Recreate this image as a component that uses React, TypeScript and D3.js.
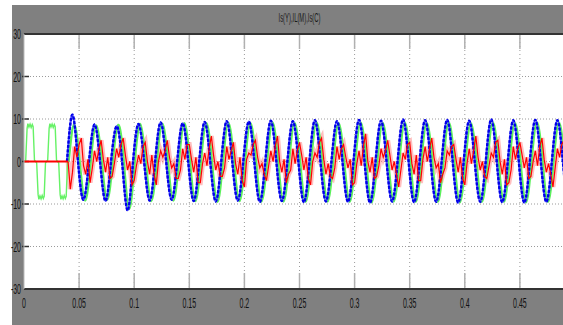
import React, { useRef, useEffect } from 'react';
import * as d3 from 'd3';

// sample step of the recorded cycles (s)
const CYCLE = 0.02;

// green trace before compensation starts (rectifier load current), [t, A]
const greenStart: [number, number][] = [
  [0, 0], [0.0015, 0], [0.0028, 7.8], [0.0035, 8.9], [0.0045, 8.1], [0.0055, 8.8], [0.0065, 8.0], [0.0075, 8.7], [0.0083, 8.2],
  [0.0095, 0.3], [0.0105, 0], [0.0115, -0.3], [0.0128, -7.8], [0.0135, -8.9], [0.0145, -8.1], [0.0155, -8.8], [0.0165, -8.0],
  [0.0175, -8.7], [0.0183, -8.2], [0.0195, -0.3], [0.0205, 0], [0.0215, 0.3], [0.0228, 7.8], [0.0235, 8.9], [0.0245, 8.1],
  [0.0255, 8.8], [0.0265, 8.0], [0.0275, 8.7], [0.0283, 8.2], [0.0295, 0.3], [0.0305, 0], [0.0315, -0.3], [0.0328, -7.8],
  [0.0335, -8.9], [0.0345, -8.1], [0.0355, -8.8], [0.0365, -8.0], [0.0375, -8.7], [0.0383, -8.2], [0.0395, -0.3], [0.0405, 0],
];

// per-cycle extrema after t = 0.04
const bluePeaks = [11, 8.7, 8.3, 8.8, 9.2, 9.0, 9.3, 9.5, 9.4, 9.6, 9.5, 9.7, 9.5, 9.8, 9.6, 9.9, 9.7, 9.8, 9.6, 9.9, 9.7, 9.8, 9.7];
const blueTroughs = [-9.0, -9.3, -11.5, -9.2, -9.0, -9.3, -9.4, -9.2, -9.5, -9.3, -9.6, -9.4, -9.5, -9.7, -9.4, -9.6, -9.5, -9.7, -9.5, -9.6, -9.7, -9.5, -9.6];
const greenPeaks = [8.7, 8.5, 8.6, 8.8, 8.9, 9.0, 9.0, 9.1, 9.0, 9.2, 9.1, 9.2, 9.0, 9.2, 9.1, 9.2, 9.1, 9.2, 9.0, 9.2, 9.1, 9.2, 9.1];
const greenTroughs = [-9.2, -9.0, -11.2, -9.3, -9.2, -9.3, -9.5, -9.3, -9.4, -9.4, -9.5, -9.4, -9.5, -9.6, -9.4, -9.5, -9.5, -9.6, -9.5, -9.5, -9.6, -9.5, -9.5];

// red trace, 10 samples per cycle (every 2 ms) from t = 0.04
const redCycles: number[][] = [
  [0, -6.5, -2.5, 3.5, 1, 4, 5.5, -1, -3, 0.5],
  [-5, -1.5, 2.5, 0, 3, 5, 0.5, -2.5, 1, -4],
  [-3.5, -0.5, 3, 1, 4, 5.5, 1.5, -2, 0, -5.5],
  [-4.5, -1, 1.5, -0.5, 3.5, 4.5, 0, -3, 1.5, -3],
  [-5.5, 0, 2.5, 1, 2.5, 5, 1, -1.5, -0.5, -4],
  [-4, -2, 3, 0.5, 4, 4, 0.5, -2.5, 1, -5],
  [-5, -0.5, 2, -1, 3, 6, 1.5, -2, 0, -3.5],
  [-3.5, -1.5, 3.5, 0.5, 2.5, 4.5, -0.5, -3, 1, -4.5],
  [-6, 0.5, 2, 1.5, 4, 5, 1, -1.5, -0.5, -3],
  [-4.5, -1, 2.5, 0, 3.5, 6, 0, -2.5, 0.5, -5],
  [-3, -2, 3, -0.5, 2.5, 4.5, 1.5, -2, 1, -4],
  [-5.5, 0, 2, 1, 4.5, 5.5, 0.5, -3, -0.5, -3.5],
  [-4, -1.5, 3.5, 0.5, 3, 4, 1, -1.5, 0.5, -5.5],
  [-5, -0.5, 2.5, -1, 3.5, 6.5, 0, -2.5, 1, -4],
  [-3.5, -1, 3, 1, 2.5, 5, 1.5, -2, 0, -3],
  [-6, -2, 2, 0.5, 4, 4.5, -0.5, -3, 1.5, -4.5],
  [-4.5, 0.5, 3.5, 0, 3, 5.5, 1, -1.5, -0.5, -5],
  [-3, -1.5, 2.5, 1.5, 3.5, 4, 0.5, -2.5, 1, -4],
  [-5.5, -0.5, 3, -0.5, 2.5, 6, 1, -2, 0, -3.5],
  [-4, -1, 2, 1, 4.5, 5, 0, -3, 0.5, -5.5],
  [-5, -2, 3.5, 0.5, 3, 4.5, 1.5, -1.5, 1, -4],
  [-3.5, 0, 2.5, -1, 3.5, 5.5, 0.5, -2.5, -0.5, -3],
  [-6, -1.5, 3, 1, 4, 5, 1, -2, 0.5, -4.5],
];

const title = 'Is(Y),IL(M),Is(C)';
const W = 563;
const H = 325;

const App: React.FC = () => {
  const svgRef = useRef<SVGSVGElement>(null);

  useEffect(() => {
    if (!svgRef.current) return;
    const svg = d3.select(svgRef.current);
    svg.selectAll('*').remove();

    const left = 24, right = 575, top = 34, bottom = 289;
    const x = d3.scaleLinear().domain([0, 0.5]).range([left, right]);
    const y = d3.scaleLinear().domain([-30, 30]).range([bottom, top]);

    // grey frame
    svg.append('rect').attr('x', 12).attr('y', 5).attr('width', W - 12).attr('height', H - 5).attr('fill', '#808080');
    svg.append('rect').attr('x', left).attr('y', top).attr('width', right - left).attr('height', bottom - top).attr('fill', '#fff');

    const font = '"Liberation Sans Narrow", "Liberation Sans", Arial, sans-serif';

    svg.append('text')
      .attr('transform', `translate(${(left + right) / 2}, 22) scale(0.45, 1)`)
      .attr('text-anchor', 'middle')
      .attr('font-family', font)
      .attr('font-size', 13)
      .attr('fill', '#1a1a1a')
      .text(title);

    const grid = svg.append('g');
    // only the ticks that fall inside the visible window
    const xt = x.ticks(10).filter(t => x(t) < W - 4);
    const yt = y.ticks(6);

    // dotted grid
    xt.filter(t => t > 0).forEach(t => {
      grid.append('line').attr('x1', x(t)).attr('x2', x(t)).attr('y1', top).attr('y2', bottom)
        .attr('stroke', '#9a9a9a').attr('stroke-width', 1).attr('stroke-dasharray', '1,3');
      grid.append('line').attr('x1', x(t)).attr('x2', x(t)).attr('y1', top).attr('y2', top + 15)
        .attr('stroke', '#b0b0b0').attr('stroke-width', 1.5);
      grid.append('line').attr('x1', x(t)).attr('x2', x(t)).attr('y1', bottom - 16).attr('y2', bottom)
        .attr('stroke', '#b0b0b0').attr('stroke-width', 1.5);
    });
    yt.filter(v => v > -30 && v < 30).forEach(v => {
      grid.append('line').attr('x1', left).attr('x2', W).attr('y1', y(v)).attr('y2', y(v))
        .attr('stroke', '#9a9a9a').attr('stroke-width', 1).attr('stroke-dasharray', '1,2');
      grid.append('line').attr('x1', left - 2).attr('x2', left + 5).attr('y1', y(v)).attr('y2', y(v))
        .attr('stroke', '#333').attr('stroke-width', 1.5);
    });

    // build series
    const blue: [number, number][] = [[0.039, 0]];
    bluePeaks.forEach((p, k) => {
      const t0 = 0.039 + k * CYCLE;
      blue.push([t0 + 0.005, p], [t0 + 0.01, 0], [t0 + 0.015, blueTroughs[k]], [t0 + 0.02, 0]);
    });
    const green: [number, number][] = [[0.0405, 0]];
    greenPeaks.forEach((p, k) => {
      const t0 = 0.0405 + k * CYCLE;
      green.push([t0 + 0.005, p], [t0 + 0.01, 0], [t0 + 0.015, greenTroughs[k]], [t0 + 0.02, 0]);
    });
    const red: [number, number][] = [];
    redCycles.forEach((row, k) => row.forEach((v, j) => red.push([0.04 + k * CYCLE + j * 0.002, v])));

    const defs = svg.append('defs');
    defs.append('clipPath').attr('id', 'plot-clip').append('rect')
      .attr('x', left).attr('y', top).attr('width', right - left).attr('height', bottom - top);
    const plot = svg.append('g').attr('clip-path', 'url(#plot-clip)');

    const lin = d3.line<[number, number]>().x(d => x(d[0])).y(d => y(d[1]));
    const smooth = d3.line<[number, number]>().x(d => x(d[0])).y(d => y(d[1])).curve(d3.curveNatural);

    plot.append('path').attr('d', lin(red)).attr('fill', 'none')
      .attr('stroke', '#ff8a8a').attr('stroke-opacity', 0.55).attr('stroke-width', 5);
    plot.append('path').attr('d', lin(greenStart)).attr('fill', 'none')
      .attr('stroke', '#66f266').attr('stroke-width', 1.4);
    plot.append('path').attr('d', smooth(green)).attr('fill', 'none')
      .attr('stroke', '#5cf05c').attr('stroke-width', 2.4);
    plot.append('path').attr('d', smooth(blue)).attr('fill', 'none')
      .attr('stroke', '#4a4aff').attr('stroke-width', 2);
    plot.append('path').attr('d', smooth(blue)).attr('fill', 'none')
      .attr('stroke', '#0000e8').attr('stroke-width', 2.4).attr('stroke-dasharray', '3,1.5');
    plot.append('path').attr('d', lin([[0, 0], [0.04, 0]])).attr('fill', 'none')
      .attr('stroke', '#ff0000').attr('stroke-width', 2.2);
    plot.append('path').attr('d', lin(red)).attr('fill', 'none')
      .attr('stroke', '#ff0000').attr('stroke-width', 1.2);

    // borders
    svg.append('line').attr('x1', left).attr('x2', W).attr('y1', top).attr('y2', top).attr('stroke', '#333').attr('stroke-width', 2);
    svg.append('line').attr('x1', left).attr('x2', W).attr('y1', bottom).attr('y2', bottom).attr('stroke', '#333').attr('stroke-width', 2);
    svg.append('line').attr('x1', left).attr('x2', left).attr('y1', top).attr('y2', bottom).attr('stroke', '#bbb').attr('stroke-width', 1);

    // tick labels
    yt.forEach(v => {
      svg.append('text')
        .attr('transform', `translate(21, ${y(v) + 5}) scale(0.5, 1)`)
        .attr('text-anchor', 'end')
        .attr('font-family', font)
        .attr('font-size', 14)
        .attr('fill', '#111')
        .text(String(v));
    });
    xt.forEach(t => {
      svg.append('text')
        .attr('transform', `translate(${x(t)}, 308) scale(0.5, 1)`)
        .attr('text-anchor', 'middle')
        .attr('font-family', font)
        .attr('font-size', 14)
        .attr('fill', '#111')
        .text(String(+t.toFixed(2)));
    });
  }, []);

  return (
    <svg ref={svgRef} width={W} height={H} style={{ position: 'absolute', left: 0, top: 0, background: '#fff' }}></svg>
  );
};

export default App;
